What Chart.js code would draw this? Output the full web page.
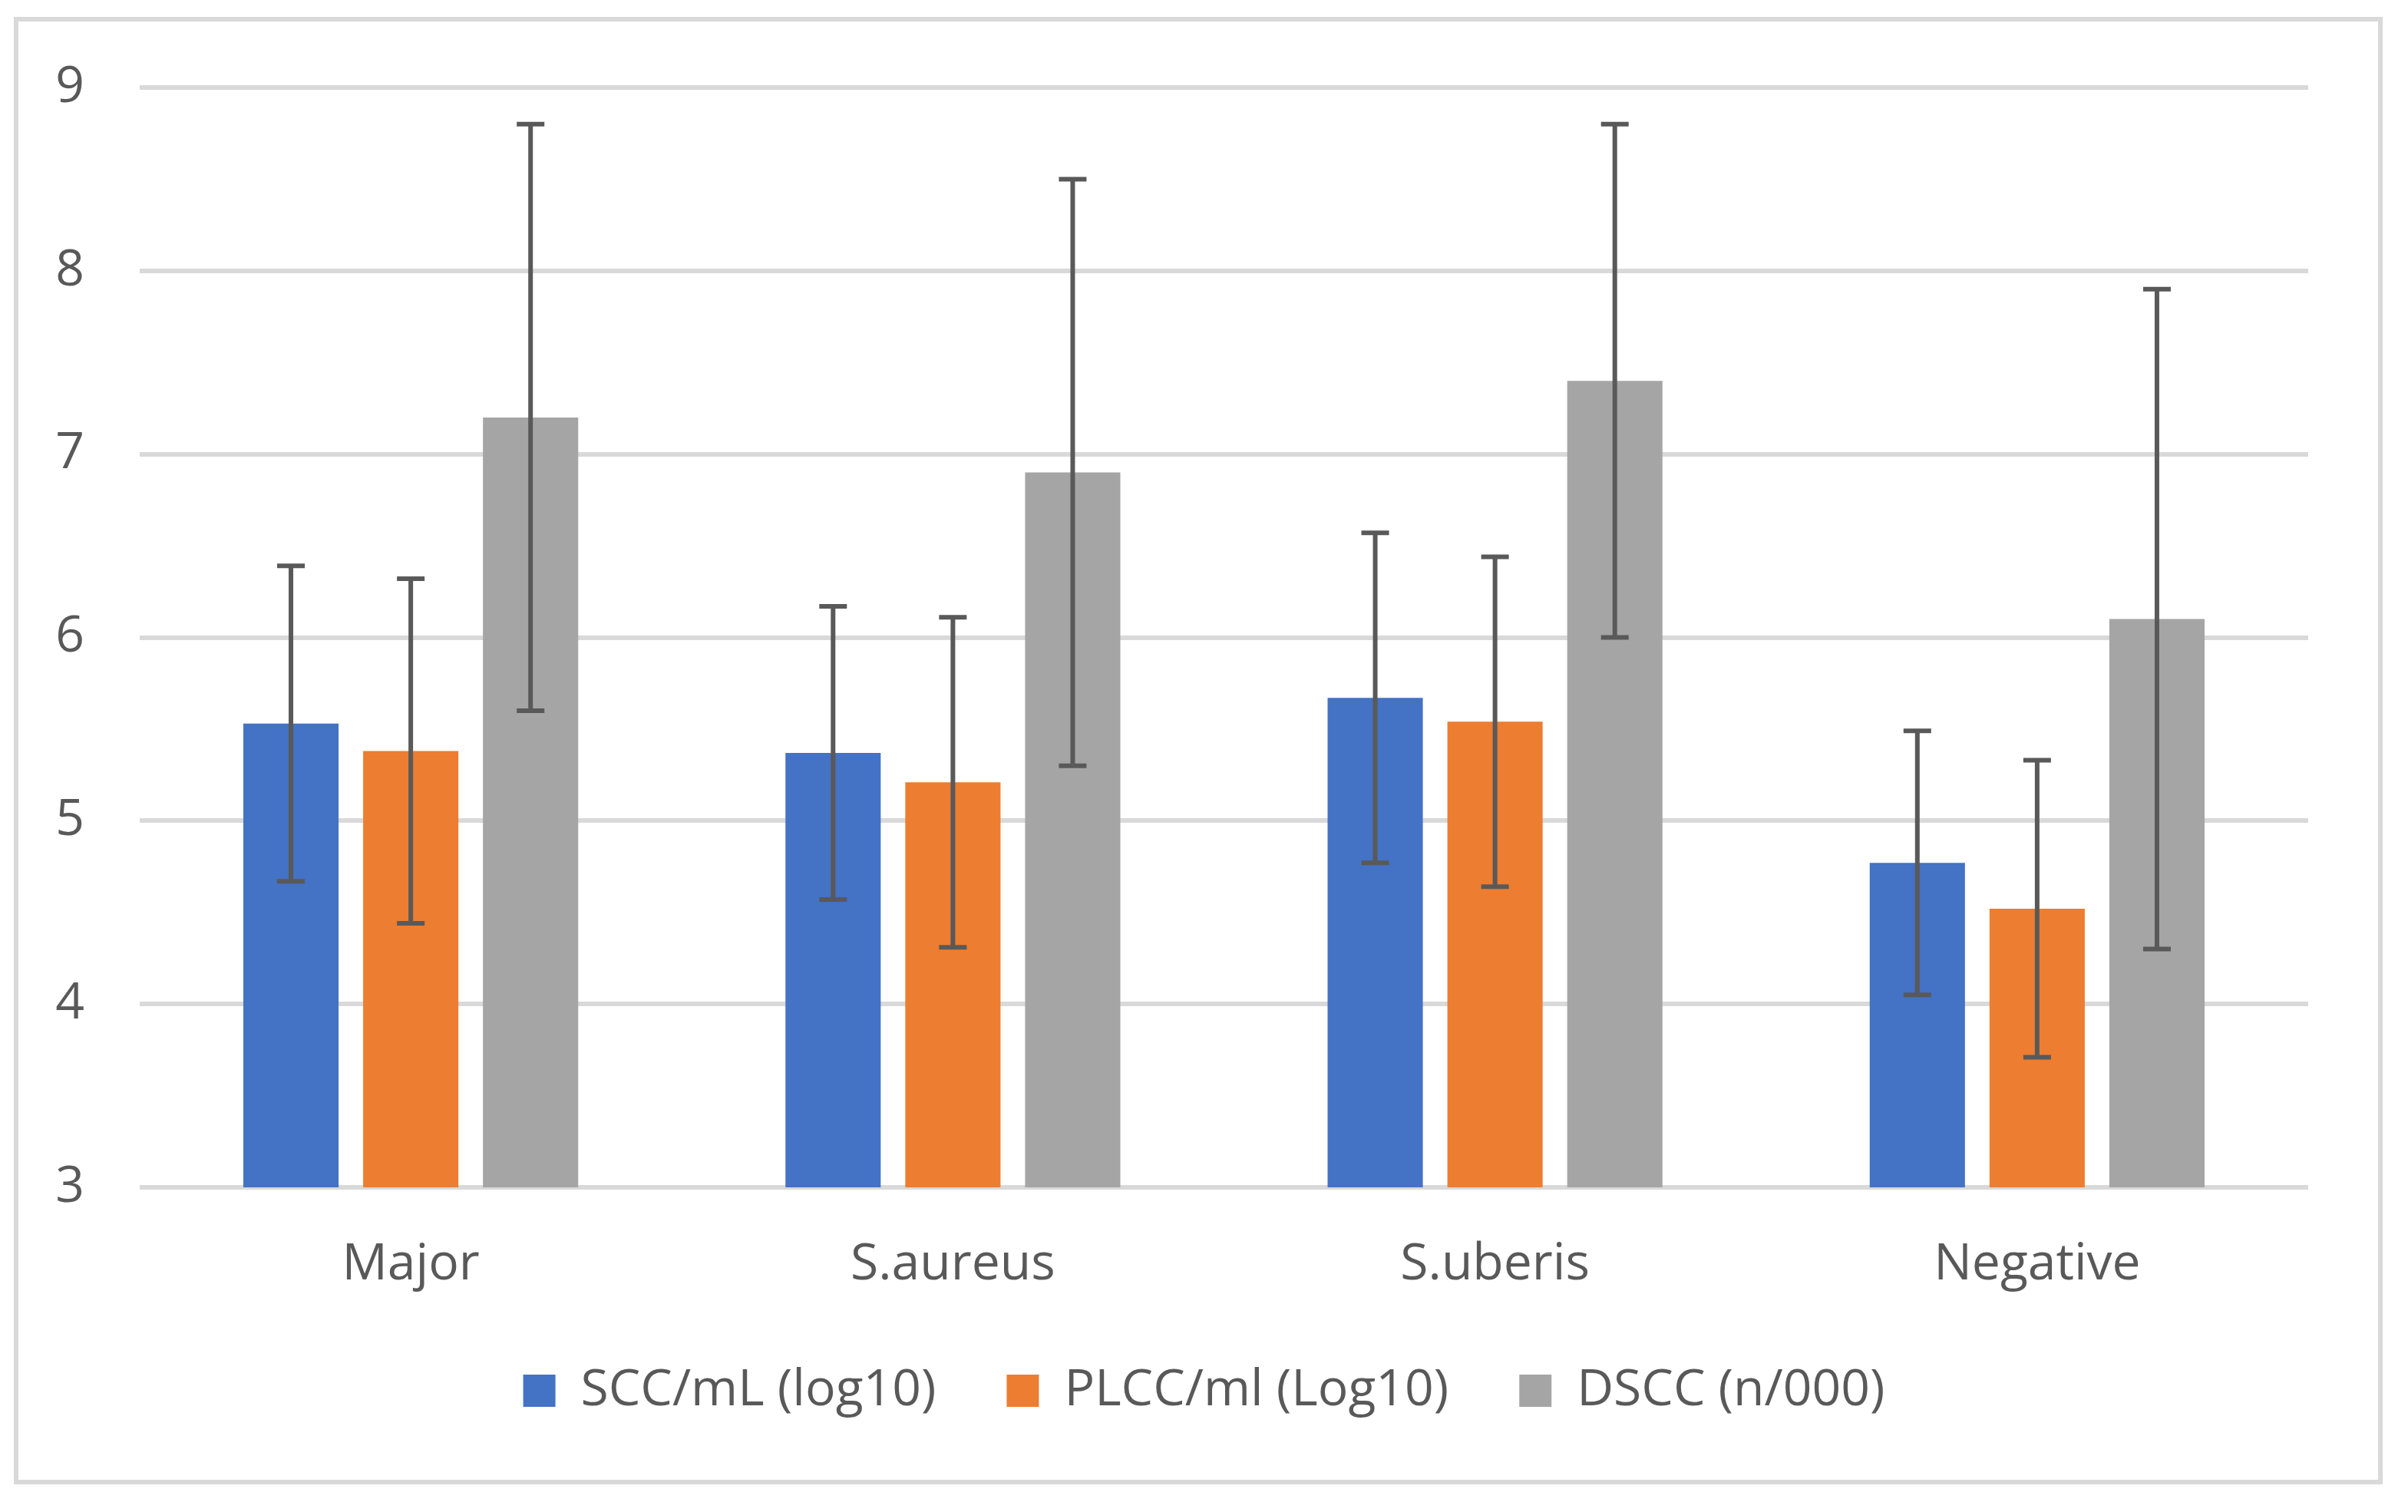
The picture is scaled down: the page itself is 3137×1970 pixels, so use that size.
<!DOCTYPE html>
<html>
<head>
<meta charset="utf-8">
<script src="https://cdn.jsdelivr.net/npm/chart.js@4.4.1/dist/chart.umd.min.js"></script>
<style>
  html, body { margin: 0; padding: 0; background: #fff; }
  #wrap { position: relative; width: 3137px; height: 1970px; }
  #frame {
    position: absolute; left: 18px; top: 22px; width: 3086px; height: 1912px;
    box-sizing: border-box; border: 6px solid #d9d9d9; pointer-events: none;
  }
  canvas { position: absolute; left: 0; top: 0; }
</style>
</head>
<body>
<div id="wrap">
  <canvas id="chart" width="3137" height="1970"></canvas>
  <div id="frame"></div>
</div>
<script>
// values (mean +/- error)
const categories = ['Major', 'S.aureus', 'S.uberis', 'Negative'];
const seriesNames = ['SCC/mL (log10)', 'PLCC/ml (Log10)', 'DSCC (n/000)'];

const sccMeans = [5.53, 5.37, 5.67, 4.77];
const sccErrors = [0.86, 0.80, 0.90, 0.72];
const plccMeans = [5.38, 5.21, 5.54, 4.52];
const plccErrors = [0.94, 0.90, 0.90, 0.81];
const dsccMeans = [7.2, 6.9, 7.4, 6.1];
const dsccErrors = [1.6, 1.6, 1.4, 1.8];

const yTicks = [3, 4, 5, 6, 7, 8, 9];

const FONT = "'Open Sans', 'Noto Sans', sans-serif";
const TEXT = '#595959';

// draws symmetric error bars on top of the bars
const errorBarPlugin = {
  id: 'errorBars',
  afterDatasetsDraw(chart) {
    const ctx = chart.ctx;
    const yScale = chart.scales.y;
    ctx.save();
    ctx.strokeStyle = '#595959';
    ctx.lineWidth = 6;
    chart.data.datasets.forEach((ds, i) => {
      const meta = chart.getDatasetMeta(i);
      meta.data.forEach((bar, j) => {
        const v = ds.data[j];
        const e = ds.errors[j];
        const top = yScale.getPixelForValue(v + e);
        const bot = yScale.getPixelForValue(v - e);
        const half = 18;
        ctx.beginPath();
        ctx.moveTo(bar.x, top);
        ctx.lineTo(bar.x, bot);
        ctx.moveTo(bar.x - half, top);
        ctx.lineTo(bar.x + half, top);
        ctx.moveTo(bar.x - half, bot);
        ctx.lineTo(bar.x + half, bot);
        ctx.stroke();
      });
    });
    ctx.restore();
  },
};

const ctx = document.getElementById('chart').getContext('2d');

new Chart(ctx, {
  type: 'bar',
  data: {
    labels: categories,
    datasets: [
      {
        label: seriesNames[0],
        data: sccMeans,
        errors: sccErrors,
        backgroundColor: '#4472c4',
      },
      {
        label: seriesNames[1],
        data: plccMeans,
        errors: plccErrors,
        backgroundColor: '#ed7d31',
      },
      {
        label: seriesNames[2],
        data: dsccMeans,
        errors: dsccErrors,
        backgroundColor: '#a5a5a5',
      },
    ],
  },
  options: {
    responsive: false,
    devicePixelRatio: 1,
    animation: false,
    categoryPercentage: 0.663,
    barPercentage: 0.795,
    layout: {
      padding: { top: 114, right: 0, bottom: 115, left: 0 },
    },
    plugins: {
      legend: {
        position: 'bottom',
        labels: {
          boxWidth: 42,
          boxHeight: 42,
          padding: 92,
          color: TEXT,
          font: { family: FONT, size: 66 },
        },
      },
      tooltip: { enabled: false },
    },
    scales: {
      x: {
        grid: { display: false },
        border: { display: false },
        ticks: {
          color: TEXT,
          padding: 54,
          font: { family: FONT, size: 66 },
        },
        afterFit: (scale) => {
          scale.height = 140;
        },
      },
      y: {
        min: yTicks[0],
        max: yTicks[yTicks.length - 1],
        grid: {
          color: '#d9d9d9',
          lineWidth: 6,
          drawTicks: false,
        },
        border: { display: false },
        ticks: {
          stepSize: 1,
          color: TEXT,
          padding: 72,
          font: { family: FONT, size: 66 },
        },
        afterFit: (scale) => {
          scale.width = 182;
        },
      },
      // empty right axis, only keeps the plot's right margin
      yRight: {
        position: 'right',
        min: yTicks[0],
        max: yTicks[yTicks.length - 1],
        grid: { display: false, drawTicks: false },
        border: { display: false },
        ticks: { display: false },
        afterFit: (scale) => {
          scale.width = 130;
        },
      },
    },
  },
  plugins: [errorBarPlugin],
});
</script>
</body>
</html>
